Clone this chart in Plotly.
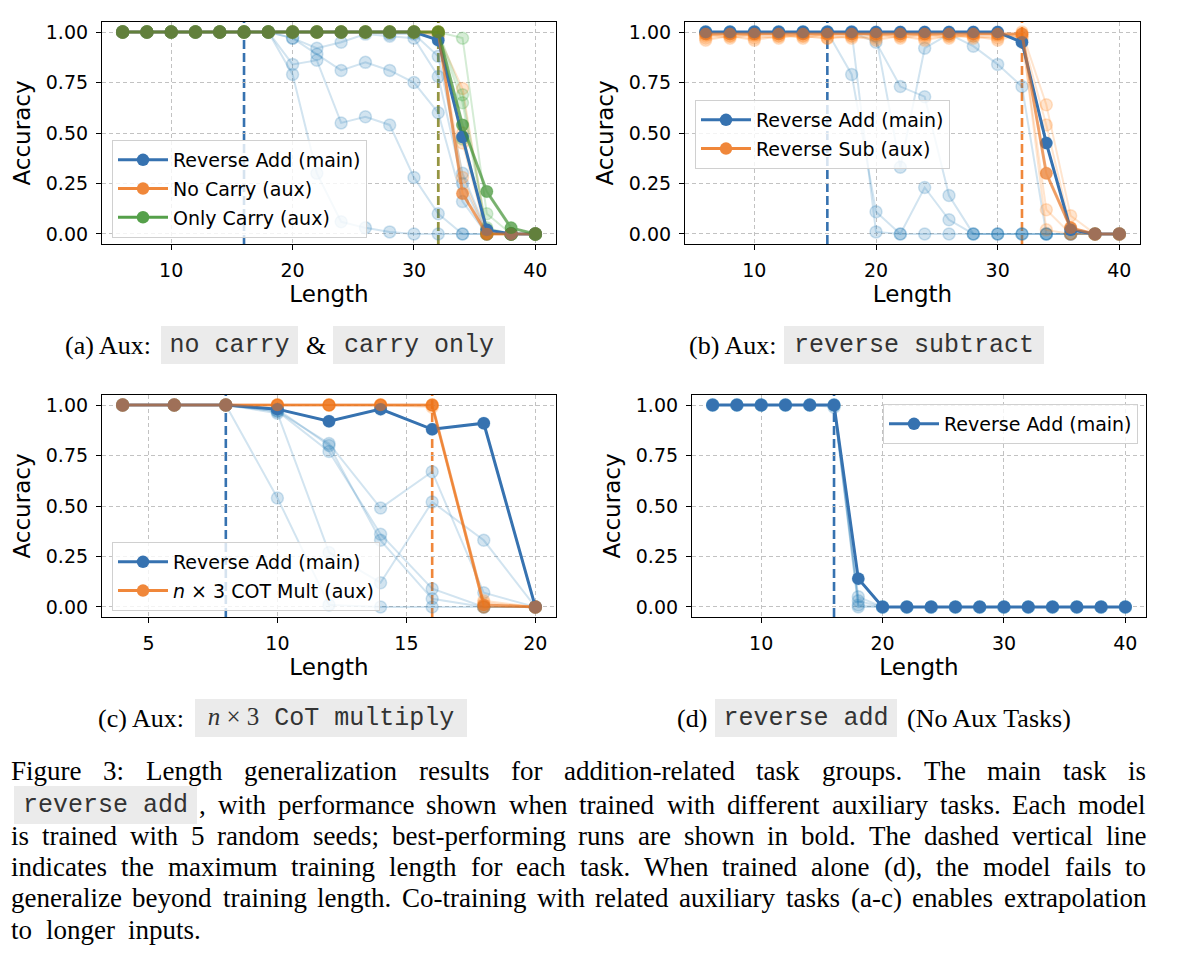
import plotly.graph_objects as go

W, H = 1200, 958
OFF = 8  # the page body margin shifts the figure by 8px

# faint (per-seed) colours and bold (best run) colours
BLUE = "#1f77b4"
ORANGE = "#ff7f0e"
GREEN = "#2ca02c"
BLUE_BOLD = "#3672b0"
ORANGE_BOLD = "#e6701e"
GREEN_BOLD = "#3a8b2a"
ORANGE_SHOW = "#f0873a"
GREEN_SHOW = "#55a04a"

# ---------------- data ----------------
lengths = [6, 8, 10, 12, 14, 16, 18, 20, 22, 24, 26, 28, 30, 32, 34, 36, 38, 40]
lengths_c = [4, 6, 8, 10, 12, 14, 16, 18, 20]

# (a) aux: no carry & carry only
a_add_best = [1.00, 1.00, 1.00, 1.00, 1.00, 1.00, 1.00, 1.00, 1.00, 1.00, 1.00, 1.00, 1.00, 0.96, 0.48, 0.02, 0.00, 0.00]
a_add_seeds = [
    [1.00, 1.00, 1.00, 1.00, 1.00, 1.00, 1.00, 0.79, 0.30, 0.06, 0.03, 0.01, 0.00, 0.00, 0.00, 0.00, 0.00, 0.00],
    [1.00, 1.00, 1.00, 1.00, 1.00, 1.00, 1.00, 0.84, 0.86, 0.55, 0.58, 0.54, 0.28, 0.10, 0.00, 0.00, 0.00, 0.00],
    [1.00, 1.00, 1.00, 1.00, 1.00, 1.00, 1.00, 0.97, 0.89, 0.81, 0.85, 0.81, 0.75, 0.60, 0.16, 0.00, 0.00, 0.00],
    [1.00, 1.00, 1.00, 1.00, 1.00, 1.00, 1.00, 0.97, 0.92, 0.95, 0.99, 0.98, 0.97, 0.78, 0.25, 0.00, 0.00, 0.00],
    [1.00, 1.00, 1.00, 1.00, 1.00, 1.00, 1.00, 1.00, 1.00, 1.00, 1.00, 0.99, 0.99, 0.88, 0.30, 0.01, 0.00, 0.00],
]
a_nocarry_best = [1.00, 1.00, 1.00, 1.00, 1.00, 1.00, 1.00, 1.00, 1.00, 1.00, 1.00, 1.00, 1.00, 1.00, 0.20, 0.00, 0.00, 0.00]
a_nocarry_seeds = [
    [1.00, 1.00, 1.00, 1.00, 1.00, 1.00, 1.00, 1.00, 1.00, 1.00, 1.00, 1.00, 1.00, 0.98, 0.72, 0.00, 0.00, 0.00],
    [1.00, 1.00, 1.00, 1.00, 1.00, 1.00, 1.00, 1.00, 1.00, 1.00, 1.00, 1.00, 1.00, 1.00, 0.50, 0.01, 0.00, 0.00],
    [1.00, 1.00, 1.00, 1.00, 1.00, 1.00, 1.00, 1.00, 1.00, 1.00, 1.00, 1.00, 1.00, 0.99, 0.45, 0.00, 0.00, 0.00],
    [1.00, 1.00, 1.00, 1.00, 1.00, 1.00, 1.00, 1.00, 1.00, 1.00, 1.00, 1.00, 1.00, 1.00, 0.28, 0.00, 0.00, 0.00],
]
a_carry_best = [1.00, 1.00, 1.00, 1.00, 1.00, 1.00, 1.00, 1.00, 1.00, 1.00, 1.00, 1.00, 1.00, 1.00, 0.54, 0.21, 0.03, 0.00]
a_carry_seeds = [
    [1.00, 1.00, 1.00, 1.00, 1.00, 1.00, 1.00, 1.00, 1.00, 1.00, 1.00, 1.00, 1.00, 1.00, 0.97, 0.10, 0.00, 0.00],
    [1.00, 1.00, 1.00, 1.00, 1.00, 1.00, 1.00, 1.00, 1.00, 1.00, 1.00, 1.00, 1.00, 1.00, 0.69, 0.02, 0.00, 0.00],
    [1.00, 1.00, 1.00, 1.00, 1.00, 1.00, 1.00, 1.00, 1.00, 1.00, 1.00, 1.00, 1.00, 0.99, 0.65, 0.00, 0.00, 0.00],
    [1.00, 1.00, 1.00, 1.00, 1.00, 1.00, 1.00, 1.00, 1.00, 1.00, 1.00, 1.00, 1.00, 1.00, 0.47, 0.03, 0.00, 0.00],
]

# (b) aux: reverse subtract
b_add_best = [1.00, 1.00, 1.00, 1.00, 1.00, 1.00, 1.00, 1.00, 1.00, 1.00, 1.00, 1.00, 1.00, 0.95, 0.45, 0.02, 0.00, 0.00]
b_add_seeds = [
    [1.00, 1.00, 1.00, 1.00, 1.00, 1.00, 0.79, 0.11, 0.00, 0.00, 0.00, 0.00, 0.00, 0.00, 0.00, 0.00, 0.00, 0.00],
    [1.00, 1.00, 1.00, 1.00, 1.00, 1.00, 1.00, 0.01, 0.00, 0.23, 0.07, 0.00, 0.00, 0.00, 0.00, 0.00, 0.00, 0.00],
    [1.00, 1.00, 1.00, 1.00, 1.00, 1.00, 1.00, 0.95, 0.73, 0.68, 0.19, 0.00, 0.00, 0.00, 0.00, 0.00, 0.00, 0.00],
    [1.00, 1.00, 1.00, 1.00, 1.00, 1.00, 1.00, 0.98, 0.33, 0.92, 0.99, 0.93, 0.84, 0.73, 0.00, 0.00, 0.00, 0.00],
]
b_sub_best = [0.99, 0.99, 0.99, 0.99, 0.99, 0.99, 0.99, 0.99, 0.99, 0.99, 0.99, 0.99, 0.99, 0.99, 0.30, 0.03, 0.00, 0.00]
b_sub_seeds = [
    [0.97, 0.98, 0.96, 0.98, 0.98, 0.97, 0.98, 0.96, 0.98, 0.97, 0.98, 0.98, 0.97, 1.00, 0.64, 0.09, 0.00, 0.00],
    [0.98, 0.99, 0.98, 0.97, 0.99, 0.98, 0.97, 0.98, 0.99, 0.98, 0.99, 0.97, 0.98, 0.98, 0.54, 0.03, 0.00, 0.00],
    [0.99, 0.97, 0.99, 0.99, 0.97, 0.99, 0.99, 0.99, 0.97, 0.99, 0.97, 0.99, 0.99, 0.97, 0.12, 0.00, 0.00, 0.00],
    [0.96, 0.98, 0.97, 0.98, 0.98, 0.97, 0.98, 0.97, 0.98, 0.96, 0.98, 0.98, 0.96, 0.99, 0.02, 0.00, 0.00, 0.00],
]

# (c) aux: n x 3 CoT multiply
c_add_best = [1.00, 1.00, 1.00, 0.98, 0.92, 0.98, 0.88, 0.91, 0.00]
c_add_seeds = [
    [1.00, 1.00, 1.00, 0.54, 0.01, 0.00, 0.00, 0.00, 0.00],
    [1.00, 1.00, 1.00, 0.97, 0.81, 0.49, 0.67, 0.07, 0.00],
    [1.00, 1.00, 1.00, 0.97, 0.77, 0.36, 0.09, 0.00, 0.00],
    [1.00, 1.00, 1.00, 0.96, 0.27, 0.12, 0.52, 0.33, 0.00],
    [1.00, 1.00, 1.00, 0.98, 0.80, 0.33, 0.04, 0.00, 0.00],
]
c_mult_best = [1.00, 1.00, 1.00, 1.00, 1.00, 1.00, 1.00, 0.01, 0.00]
c_mult_seeds = [
    [1.00, 1.00, 1.00, 1.00, 1.00, 1.00, 1.00, 0.00, 0.00],
    [1.00, 1.00, 1.00, 1.00, 1.00, 1.00, 1.00, 0.03, 0.00],
    [1.00, 1.00, 1.00, 1.00, 1.00, 1.00, 0.99, 0.02, 0.00],
    [1.00, 1.00, 1.00, 1.00, 1.00, 1.00, 1.00, 0.00, 0.00],
]

# (d) reverse add alone
d_add_best = [1.00, 1.00, 1.00, 1.00, 1.00, 1.00, 0.14, 0.00, 0.00, 0.00, 0.00, 0.00, 0.00, 0.00, 0.00, 0.00, 0.00, 0.00]
d_add_seeds = [
    [1.00, 1.00, 1.00, 1.00, 1.00, 1.00, 0.05, 0.00, 0.00, 0.00, 0.00, 0.00, 0.00, 0.00, 0.00, 0.00, 0.00, 0.00],
    [1.00, 1.00, 1.00, 1.00, 1.00, 1.00, 0.03, 0.00, 0.00, 0.00, 0.00, 0.00, 0.00, 0.00, 0.00, 0.00, 0.00, 0.00],
    [1.00, 1.00, 1.00, 1.00, 1.00, 1.00, 0.01, 0.00, 0.00, 0.00, 0.00, 0.00, 0.00, 0.00, 0.00, 0.00, 0.00, 0.00],
    [1.00, 1.00, 1.00, 1.00, 1.00, 0.99, 0.00, 0.00, 0.00, 0.00, 0.00, 0.00, 0.00, 0.00, 0.00, 0.00, 0.00, 0.00],
]

# max training length per task (dashed lines)
train_len_a = [16, 32, 32]
train_len_b = [16, 32]
train_len_c = [8, 16]
train_len_d = [16]

caption_lines = [
    "Figure 3:  Length generalization results for addition-related task groups.  The main task is",
    ", with performance shown when trained with different auxiliary tasks. Each model",
    "is trained with 5 random seeds; best-performing runs are shown in bold. The dashed vertical line",
    "indicates the maximum training length for each task.  When trained alone (d), the model fails to",
    "generalize beyond training length. Co-training with related auxiliary tasks (a-c) enables extrapolation",
    "to longer inputs.",
]


def rgba(h, a):
    h = h.lstrip("#")
    return f"rgba({int(h[0:2], 16)},{int(h[2:4], 16)},{int(h[4:6], 16)},{a})"


def px2x(px):
    return (px - OFF) / W


def py2y(py):
    return 1 - (py - OFF) / H


MAIN = dict(faint=BLUE, bold=BLUE_BOLD, show=BLUE_BOLD, opacity=1.0)
AUX_O = dict(faint=ORANGE, bold=ORANGE_BOLD, show=ORANGE_SHOW, opacity=0.6)
AUX_G = dict(faint=GREEN, bold=GREEN_BOLD, show=GREEN_SHOW, opacity=0.6)

fig = go.Figure()


def add_panel(n, x, tasks, train_len, legend_id):
    suf = "" if n == 1 else str(n)
    # every seed drawn faint first
    for name, sty, best, seeds in tasks:
        for s in seeds + [best]:
            fig.add_trace(go.Scatter(
                x=x, y=s, mode="lines+markers", showlegend=False, hoverinfo="skip",
                line=dict(color=rgba(sty["faint"], 0.2), width=2),
                marker=dict(size=12, color=rgba(sty["faint"], 0.2),
                            line=dict(color=rgba(sty["faint"], 0.2), width=1.5)),
                xaxis="x" + suf, yaxis="y" + suf))
    # best runs in bold on top
    for i, (name, sty, best, seeds) in enumerate(tasks):
        fig.add_trace(go.Scatter(
            x=x, y=best, name=name, mode="lines+markers", opacity=sty["opacity"],
            showlegend=False,
            line=dict(color=sty["bold"], width=3), marker=dict(size=12.5, color=sty["bold"]),
            xaxis="x" + suf, yaxis="y" + suf))
        # legend entry with the colour as it appears on the plot
        fig.add_trace(go.Scatter(
            x=[None], y=[None], name=name, mode="lines+markers",
            line=dict(color=sty["show"], width=3), marker=dict(size=12.5, color=sty["show"]),
            legend=legend_id, legendgroup=f"{legend_id}_{i}",
            xaxis="x" + suf, yaxis="y" + suf))
    seen = []
    for (name, sty, best, seeds), xl in zip(tasks, train_len):
        fig.add_shape(type="line", xref="x" + suf, yref=f"y{suf} domain",
                      x0=xl, x1=xl, y0=0, y1=1, layer="below",
                      opacity=0.6 if xl in seen else 1.0,
                      line=dict(color=sty["show"], width=2.6, dash="9px,4px"))
        seen.append(xl)


add_panel(1, lengths, [
    ("Reverse Add (main)", MAIN, a_add_best, a_add_seeds),
    ("No Carry (aux)", AUX_O, a_nocarry_best, a_nocarry_seeds),
    ("Only Carry (aux)", AUX_G, a_carry_best, a_carry_seeds),
], train_len_a, "legend")
add_panel(2, lengths, [
    ("Reverse Add (main)", MAIN, b_add_best, b_add_seeds),
    ("Reverse Sub (aux)", AUX_O, b_sub_best, b_sub_seeds),
], train_len_b, "legend2")
add_panel(3, lengths_c, [
    ("Reverse Add (main)", MAIN, c_add_best, c_add_seeds),
    ("<i>n</i> × 3 COT Mult (aux)", AUX_O, c_mult_best, c_mult_seeds),
], train_len_c, "legend3")
add_panel(4, lengths, [
    ("Reverse Add (main)", MAIN, d_add_best, d_add_seeds),
], train_len_d, "legend4")


def xaxis(left, right, rng, ticks, anchor):
    return dict(domain=[px2x(left), px2x(right)], range=rng, tickvals=ticks, anchor=anchor,
                showline=True, linecolor="black", linewidth=1.2, mirror=True,
                ticks="outside", ticklen=5, tickwidth=1.2, tickcolor="black",
                ticklabelstandoff=4,
                showgrid=True, gridcolor="#c2c2c2", gridwidth=1, griddash="4px,3px",
                zeroline=False, tickfont=dict(size=19, color="black"),
                title=dict(text="Length", font=dict(size=23, color="black"), standoff=4))


def yaxis(top, bottom, anchor):
    return dict(domain=[py2y(bottom), py2y(top)], range=[-0.05, 1.05],
                tickvals=[0, 0.25, 0.5, 0.75, 1.0], tickformat=".2f", anchor=anchor,
                showline=True, linecolor="black", linewidth=1.2, mirror=True,
                ticks="outside", ticklen=5, tickwidth=1.2, tickcolor="black",
                ticklabelstandoff=4,
                showgrid=True, gridcolor="#c2c2c2", gridwidth=1, griddash="4px,3px",
                zeroline=False, tickfont=dict(size=19, color="black"),
                title=dict(text="Accuracy", font=dict(size=23, color="black"), standoff=8))


def legend(px, py, xanchor="left"):
    return dict(x=px2x(px), y=py2y(py), xanchor=xanchor, yanchor="top",
                bgcolor="rgba(255,255,255,0.8)", bordercolor="#d0d0d0", borderwidth=1,
                font=dict(size=19, color="black"), tracegroupgap=1, itemwidth=50)


fig.update_layout(
    width=W, height=H, template="none",
    margin=dict(l=0, r=0, t=0, b=0),
    paper_bgcolor="white", plot_bgcolor="white",
    font=dict(family="DejaVu Sans", color="black"),
    xaxis=xaxis(102, 556, [4.3, 41.7], [10, 20, 30, 40], "y"),
    yaxis=yaxis(22, 244, "x"),
    xaxis2=xaxis(685, 1140, [4.3, 41.7], [10, 20, 30, 40], "y2"),
    yaxis2=yaxis(22, 244, "x2"),
    xaxis3=xaxis(102, 556, [3.2, 20.8], [5, 10, 15, 20], "y3"),
    yaxis3=yaxis(395, 617, "x3"),
    xaxis4=xaxis(692, 1146, [4.3, 41.7], [10, 20, 30, 40], "y4"),
    yaxis4=yaxis(395, 617, "x4"),
    legend=legend(112, 140),
    legend2=legend(695, 100),
    legend3=legend(112, 542),
    legend4=legend(1138, 404, "right"),
)

# ---------------- sub-captions and figure caption ----------------
SERIF = "Liberation Serif"
MONO = "Liberation Mono"
CODE_BG = "#ebebeb"

# Times / Liberation Serif advance widths (per 1000 em)
TIMES_W = {
    "a": 444, "b": 500, "c": 444, "d": 500, "e": 444, "f": 333, "g": 500, "h": 500,
    "i": 278, "j": 278, "k": 500, "l": 278, "m": 778, "n": 500, "o": 500, "p": 500,
    "q": 500, "r": 333, "s": 389, "t": 278, "u": 500, "v": 500, "w": 722, "x": 500,
    "y": 500, "z": 444, "A": 722, "C": 667, "E": 611, "F": 556, "L": 611, "T": 611,
    "W": 944, ".": 250, ",": 250, ":": 278, ";": 278, "-": 333, "(": 333, ")": 333,
}


def text_w(s, size):
    return sum(TIMES_W.get(ch, 500) for ch in s) * size / 1000


def label(px, py, text, size, family=SERIF, xanchor="left"):
    fig.add_annotation(x=px2x(px), y=py2y(py), xref="paper", yref="paper", text=text,
                       showarrow=False, xanchor=xanchor, yanchor="middle",
                       borderpad=0, borderwidth=0,
                       font=dict(size=size, family=family, color="black"))


def code_box(left, right, py, text, size=25):
    pad = 3
    fig.add_annotation(x=px2x((left + right) / 2), y=py2y(py), xref="paper", yref="paper",
                       text=text, showarrow=False, xanchor="center", yanchor="middle",
                       bgcolor=CODE_BG, borderpad=pad, borderwidth=0,
                       width=right - left - 2 * pad, height=32,
                       font=dict(size=size, family=MONO, color="#333333"))


label(65, 345, "(a) Aux:", 26)
code_box(161, 298, 345, "no carry")
label(306, 345, "&", 26)
code_box(333, 505, 345, "carry only")
label(689, 345, "(b) Aux:", 26)
code_box(784, 1044, 345, "reverse subtract")
label(98, 718, "(c) Aux:", 26)
code_box(195, 467, 718, '<span style="font-family:Liberation Serif"><i>n</i> × 3</span> CoT multiply')
label(677, 718, "(d)", 26)
code_box(715, 897, 718, "reverse add")
label(907, 718, "(No Aux Tasks)", 26)

CAP_SIZE = 27
line_y = [771, 805, 836, 867, 898, 930]
line_x0 = [11, 199, 11, 11, 11, 11]
line_x1 = 1146
code_box(14, 197, 805, "reverse add")

for k, line in enumerate(caption_lines):
    words = line.split()
    widths = [text_w(w, CAP_SIZE) for w in words]
    if k == len(caption_lines) - 1:
        gap = text_w(" ", CAP_SIZE)
    else:
        gap = (line_x1 - line_x0[k] - sum(widths)) / (len(words) - 1)
    xpos = line_x0[k]
    for w, ww in zip(words, widths):
        label(xpos, line_y[k], w, CAP_SIZE)
        xpos += ww + gap

fig.write_html("out.html")
